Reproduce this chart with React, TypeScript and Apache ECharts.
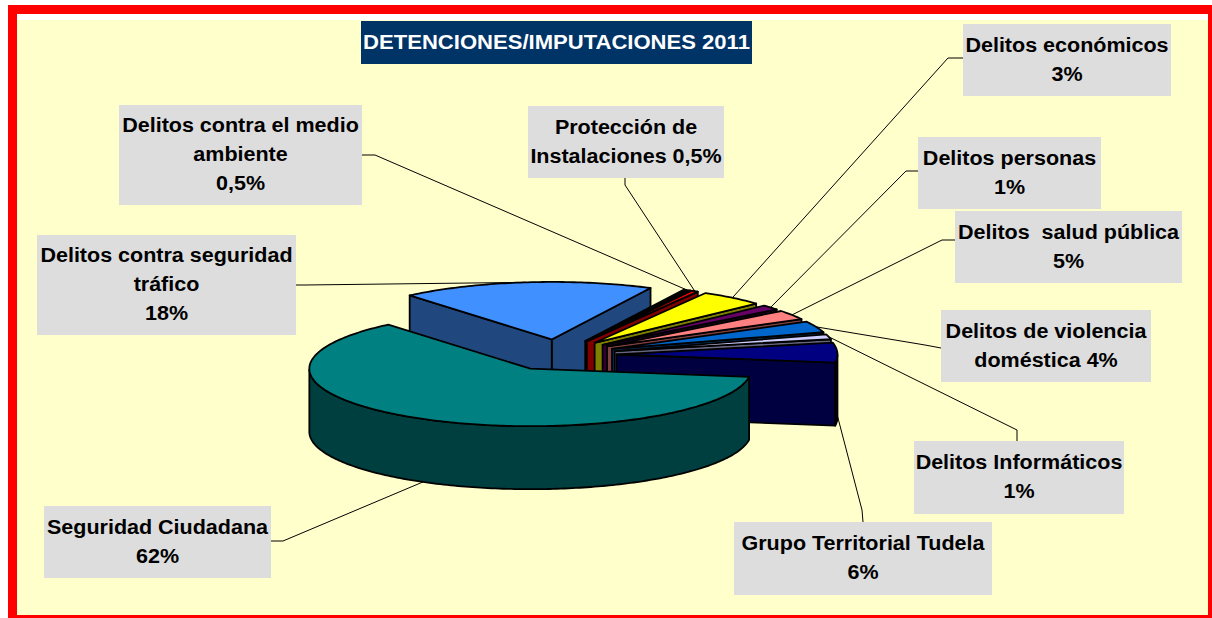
import React, { useEffect, useRef } from "react";
import * as echarts from "echarts";

const FONT = '"Liberation Sans", Arial, sans-serif';

// Slices, back to front.
const sliceNames = ["Delitos contra seguridad tráfico", "Delitos contra el medio ambiente", "Protección de Instalaciones", "Delitos económicos", "Delitos personas", "Delitos salud pública", "Delitos de violencia doméstica", "Delitos Informáticos", "Grupo Territorial Tudela", "Seguridad Ciudadana"];
// Share of the circle each slice occupies in the picture, measured from its drawn angle.
const sliceShares = [18.6, 0.5, 0.5, 4.7, 1.4, 2.7, 3.2, 1.4, 5.6, 62];
const topColors = ["#4090ff", "#000000", "#ff0000", "#ffff00", "#660066", "#ff8080", "#0066cc", "#ccccff", "#000080", "#008080"];
const wallColors = ["#20487f", "#000000", "#800000", "#808000", "#330033", "#804040", "#003366", "#666680", "#000040", "#003f3f"];

// Callout texts, in the same order as the slices.
const calloutTexts = [
  "Delitos contra seguridad\ntráfico\n18%",
  "Delitos contra el medio\nambiente\n0,5%",
  "Protección de\nInstalaciones 0,5%",
  "Delitos económicos\n3%",
  "Delitos personas\n1%",
  "Delitos  salud pública\n5%",
  "Delitos de violencia\ndoméstica 4%",
  "Delitos Informáticos\n1%",
  "Grupo Territorial Tudela\n6%",
  "Seguridad Ciudadana\n62%",
];
const calloutBoxes = [
  [37, 235, 259, 100], [119, 105, 243, 100], [528, 106, 196, 72], [963, 24, 208, 72], [918, 137, 183, 72],
  [955, 211, 227, 72], [941, 310, 210, 72], [914, 441, 210, 73], [734, 522, 258, 73], [44, 506, 227, 72],
];
// Leader start (on the box) and elbow.
const leaderStarts = [
  [296, 285, 305, 285], [362, 155, 375, 155], [625, 178, 625, 185], [963, 58, 948, 58], [918, 171, 906, 171],
  [955, 240, 942, 240], [941, 348, 925, 345], [1017, 441, 1017, 430], [863, 522, 862, 510], [271, 541, 283, 541],
];
// 1 when the leader runs to the foot of the wall rather than to the top rim.
const leaderOnWall = [0, 0, 0, 0, 0, 0, 0, 0, 1, 1];

const TITLE = "DETENCIONES/IMPUTACIONES 2011";

const CX = 558.5, CY = 355, RX = 221, RY = 57.5, DEPTH = 63, EXPLODE = 58, TILT = 0.27, START = 130;
const rad = (a: number) => (a * Math.PI) / 180;

function sliceGeometry(i: number) {
  const total = sliceShares.reduce((s, v) => s + v, 0);
  let hi = START;
  for (let k = 0; k < i; k++) hi -= (sliceShares[k] / total) * 360;
  const lo = hi - (sliceShares[i] / total) * 360;
  const mid = (hi + lo) / 2;
  const ax = CX + EXPLODE * Math.cos(rad(mid));
  const ay = CY - EXPLODE * TILT * Math.sin(rad(mid));
  const rim = (a: number) => [ax + RX * Math.cos(rad(a)), ay - RY * Math.sin(rad(a))];
  return { lo, hi, mid, ax, ay, rim };
}

const down = (p: number[]) => [p[0], p[1] + DEPTH];

function renderSlice(params: any) {
  const i = params.dataIndex;
  const { lo, hi, ax, ay, rim } = sliceGeometry(i);
  const edge = { stroke: "#000", lineWidth: 1.8, lineJoin: "round" };
  const children: any[] = [];
  const wall = (points: number[][]) => children.push({ type: "polygon", shape: { points }, style: { fill: wallColors[i], ...edge } });
  const apex = [ax, ay];
  if (Math.cos(rad(lo)) > 0) wall([apex, rim(lo), down(rim(lo)), down(apex)]);
  if (Math.cos(rad(hi)) < 0) wall([apex, rim(hi), down(rim(hi)), down(apex)]);
  const front: number[][] = [];
  const arc: number[][] = [];
  const steps = Math.max(2, Math.ceil(hi - lo));
  for (let s = 0; s <= steps; s++) {
    const a = lo + ((hi - lo) * s) / steps;
    arc.push(rim(a));
    if (Math.sin(rad(a)) < 0) front.push(rim(a));
  }
  if (front.length > 1) wall([...front, ...front.slice().reverse().map(down)]);
  children.push({ type: "polygon", shape: { points: [apex, ...arc] }, style: { fill: topColors[i], ...edge } });
  return { type: "group", children };
}

function renderLeader(params: any) {
  const i = params.dataIndex;
  const { mid, rim } = sliceGeometry(i);
  const p = rim(mid);
  const end = leaderOnWall[i] ? down(p) : p;
  const [x0, y0, x1, y1] = leaderStarts[i];
  return {
    type: "polyline",
    shape: { points: [[x0, y0], [x1, y1], end] },
    style: { stroke: "#000", lineWidth: 1, fill: "none" },
  };
}

export default function App() {
  const ref = useRef<HTMLDivElement>(null);
  useEffect(() => {
    const chart = echarts.init(ref.current!, null, { renderer: "svg" });
    const boxes: any[] = [];
    calloutTexts.forEach((text, i) => {
      const [x, y, w, h] = calloutBoxes[i];
      boxes.push({ type: "rect", z: 5, shape: { x, y, width: w, height: h }, style: { fill: "#dddddd" } });
      boxes.push({
        type: "text", z: 6, x: x + w / 2, y: y + h / 2 - 1, scaleX: 1.05,
        style: { text, fill: "#000", font: `bold 20.5px ${FONT}`, align: "center", verticalAlign: "middle", lineHeight: 29 },
      });
    });
    chart.setOption({
      animation: false,
      backgroundColor: "#ffffff",
      graphic: [
        { type: "rect", z: 0, shape: { x: 8, y: 5, width: 1204, height: 613 }, style: { fill: "#ff0000" } },
        { type: "rect", z: 0, shape: { x: 17, y: 14, width: 1191, height: 6 }, style: { fill: "#ffffff" } },
        { type: "rect", z: 0, shape: { x: 17, y: 20, width: 1191, height: 595 }, style: { fill: "#ffffcc" } },
        { type: "rect", z: 5, shape: { x: 361, y: 21, width: 391, height: 43 }, style: { fill: "#003366" } },
        { type: "text", z: 6, x: 556.5, y: 42, scaleX: 1.103, style: { text: TITLE, fill: "#fff", font: `bold 20px ${FONT}`, align: "center", verticalAlign: "middle" } },
        ...boxes,
      ],
      series: [
        { type: "custom", z: 2, coordinateSystem: "none", silent: true, renderItem: renderLeader, data: sliceShares.map((v, i) => ({ name: sliceNames[i], value: v })) },
        { type: "custom", z: 3, coordinateSystem: "none", silent: true, renderItem: renderSlice, data: sliceShares.map((v, i) => ({ name: sliceNames[i], value: v })) },
      ],
    });
    return () => chart.dispose();
  }, []);
  return <div ref={ref} style={{ position: "fixed", left: 0, top: 0, width: 1212, height: 618 }} />;
}
